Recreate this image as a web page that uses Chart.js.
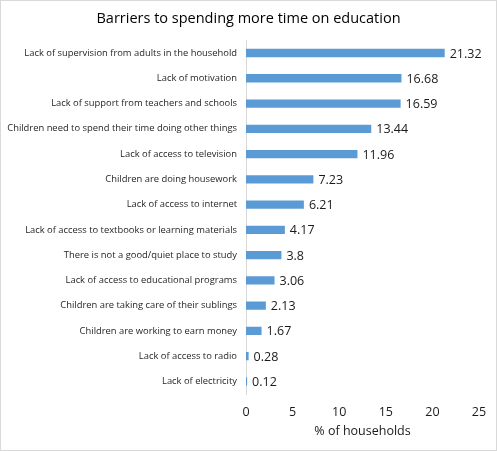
<!DOCTYPE html>
<html>
<head>
<meta charset="utf-8">
<script src="https://cdn.jsdelivr.net/npm/chart.js@4.4.0/dist/chart.umd.min.js"></script>
<style>
html,body{margin:0;padding:0;background:#fff;}
#wrap{position:relative;width:497px;height:451px;}
</style>
</head>
<body>
<div id="wrap"><canvas id="c"></canvas></div>
<script>
const categories = [
  "Lack of supervision from adults in the household",
  "Lack of motivation",
  "Lack of support from teachers and schools",
  "Children need to spend their time doing other things",
  "Lack of access to television",
  "Children are doing housework",
  "Lack of access to internet",
  "Lack of access to textbooks or learning materials",
  "There is not a good/quiet place to study",
  "Lack of access to educational programs",
  "Children are taking care of their sublings",
  "Children are working to earn money",
  "Lack of access to radio",
  "Lack of electricity"
];
const values = [21.32, 16.68, 16.59, 13.44, 11.96, 7.23, 6.21, 4.17, 3.8, 3.06, 2.13, 1.67, 0.28, 0.12];
const valueLabels = ["21.32","16.68","16.59","13.44","11.96","7.23","6.21","4.17","3.8","3.06","2.13","1.67","0.28","0.12"];
const xTicks = [0, 5, 10, 15, 20, 25];
const titleText = "Barriers to spending more time on education";
const xTitle = "% of households";

const FONT = "'Open Sans', 'Noto Sans', sans-serif";

const frame = {
  id: 'frame',
  beforeDraw(chart) {
    const ctx = chart.ctx;
    ctx.save();
    ctx.fillStyle = '#fff';
    ctx.fillRect(0, 0, chart.width, chart.height);
    ctx.restore();
  },
  afterDraw(chart) {
    const ctx = chart.ctx;
    ctx.save();
    ctx.strokeStyle = '#d9d9d9';
    ctx.lineWidth = 1;
    ctx.strokeRect(0.5, 0.5, chart.width - 1, chart.height - 1);
    ctx.restore();
  }
};

const barLabels = {
  id: 'barLabels',
  afterDatasetsDraw(chart) {
    const ctx = chart.ctx;
    const meta = chart.getDatasetMeta(0);
    ctx.save();
    ctx.font = "12.5px " + FONT;
    ctx.fillStyle = '#1a1a1a';
    ctx.textAlign = 'left';
    ctx.textBaseline = 'middle';
    meta.data.forEach((bar, i) => {
      ctx.fillText(valueLabels[i], bar.x + 5, bar.y + 1);
    });
    ctx.restore();
  }
};

new Chart(document.getElementById('c'), {
  type: 'bar',
  data: {
    labels: categories,
    datasets: [{
      data: values,
      backgroundColor: '#5b9bd5',
      borderWidth: 0,
      barPercentage: 0.33,
      categoryPercentage: 1.0
    }]
  },
  plugins: [frame, barLabels],
  options: {
    indexAxis: 'y',
    responsive: true,
    maintainAspectRatio: false,
    animation: false,
    layout: { padding: { left: 0, right: 0, top: 0, bottom: 0 } },
    plugins: {
      legend: { display: false },
      tooltip: { enabled: false },
      title: {
        display: true,
        text: titleText,
        color: '#000',
        font: { family: FONT, size: 14.5, weight: 'normal', lineHeight: 1.2 },
        padding: { top: 10, bottom: 13 }
      }
    },
    scales: {
      x: {
        min: 0,
        max: 25,
        afterBuildTicks(scale) { scale.ticks = xTicks.map(v => ({ value: v })); },
        afterFit(scale) { scale.height = 57; scale.paddingRight = 18; },
        grid: { display: false, drawTicks: false },
        border: { display: false },
        ticks: {
          padding: 11,
          color: '#1a1a1a',
          font: { family: FONT, size: 12.5 }
        },
        title: {
          display: true,
          text: xTitle,
          color: '#1a1a1a',
          font: { family: FONT, size: 12.5, lineHeight: 1.2 },
          padding: { top: 4, bottom: 12 }
        }
      },
      y: {
        afterFit(scale) { scale.width = 246; },
        grid: { display: false, drawTicks: false },
        border: { display: true, color: '#d9d9d9', width: 1 },
        ticks: {
          padding: 9,
          color: '#262626',
          autoSkip: false,
          font: { family: FONT, size: 9.4 }
        }
      }
    }
  }
});
</script>
</body>
</html>
